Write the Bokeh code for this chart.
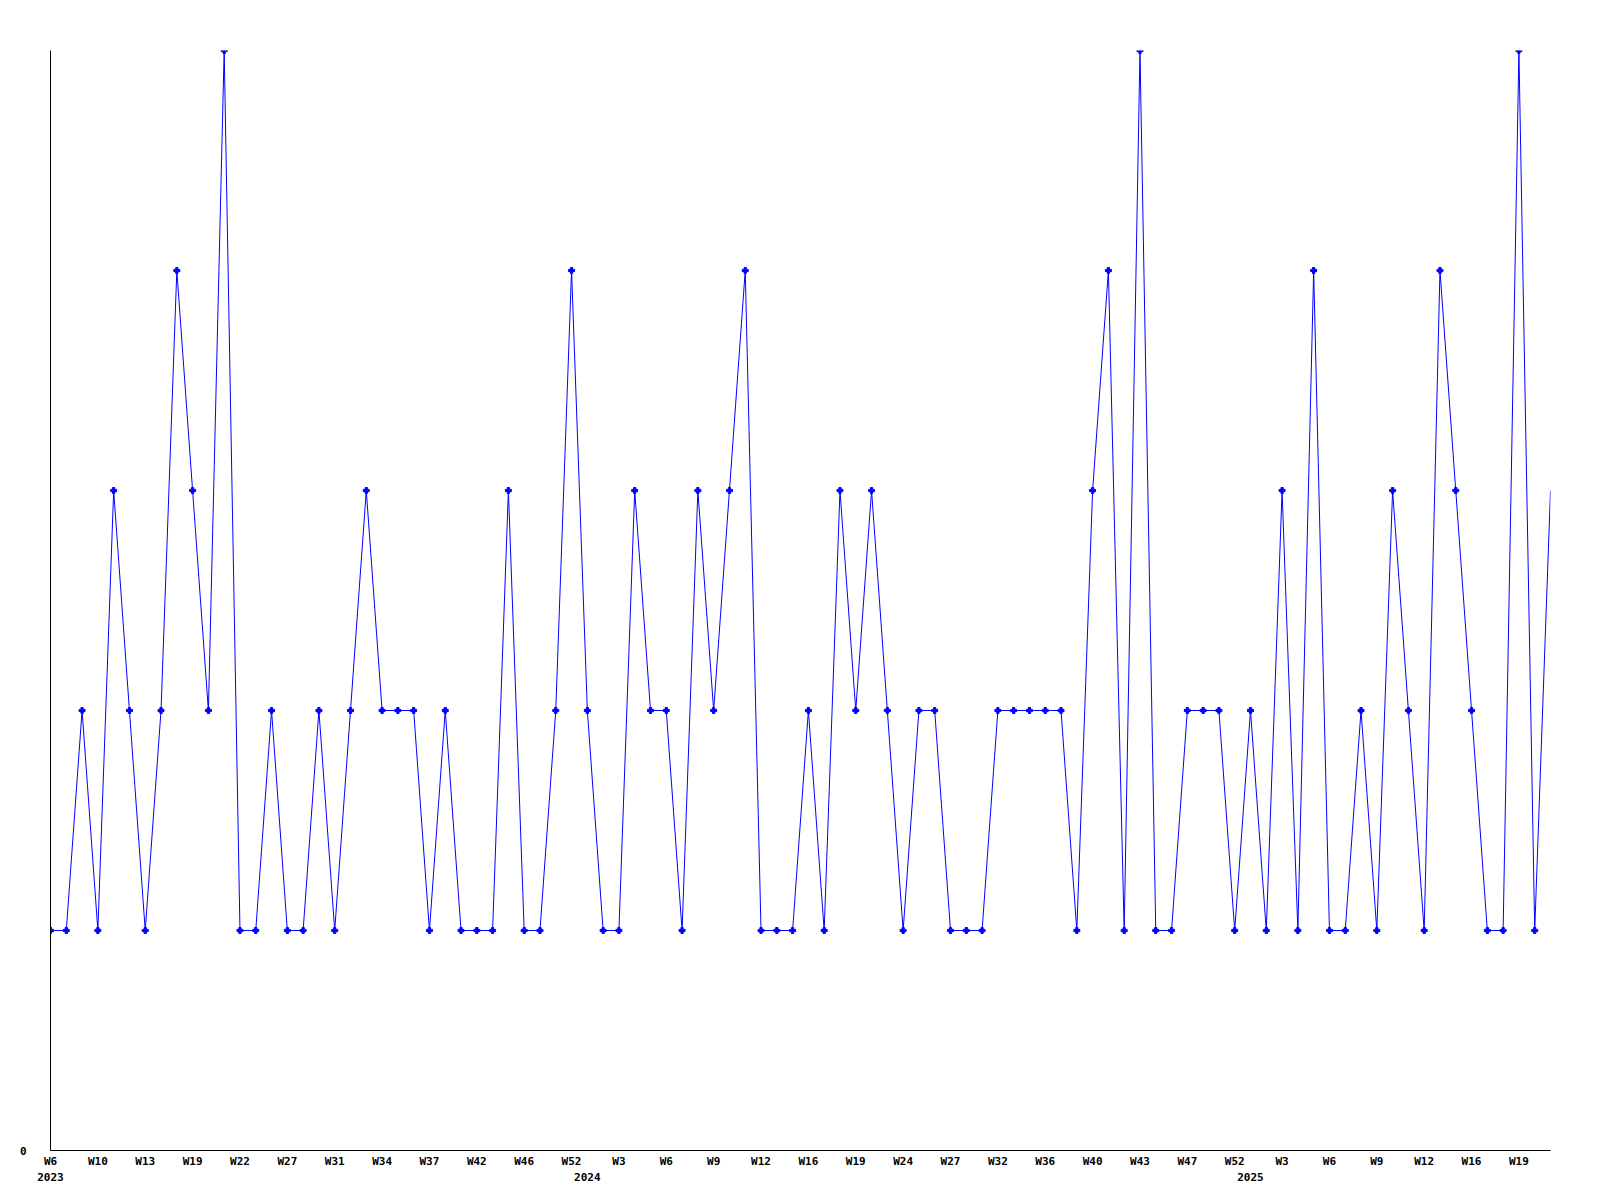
from bokeh.plotting import figure
from bokeh.models import FixedTicker, LinearAxis, Range1d
from bokeh.embed import file_html
from bokeh.resources import INLINE

# Data: one value per period (evenly spaced categories)
values = [1, 1, 2, 1, 3, 2, 1, 2, 4, 3, 2, 5,
          1, 1, 2, 1, 1, 2, 1, 2, 3, 2, 2, 2,
          1, 2, 1, 1, 1, 3, 1, 1, 2, 4, 2, 1,
          1, 3, 2, 2, 1, 3, 2, 3, 4, 1, 1, 1,
          2, 1, 3, 2, 3, 2, 1, 2, 2, 1, 1, 1,
          2, 2, 2, 2, 2, 1, 3, 4, 1, 5, 1, 1,
          2, 2, 2, 1, 2, 1, 3, 1, 4, 1, 1, 2,
          1, 3, 2, 1, 4, 3, 2, 1, 1, 5, 1, 3]
x_idx = list(range(len(values)))

week_tick_idx = list(range(0, 94, 3))
week_labels = ["W6", "W10", "W13", "W19", "W22", "W27", "W31", "W34", "W37", "W42", "W46",
               "W52", "W3", "W6", "W9", "W12", "W16", "W19", "W24", "W27", "W32", "W36",
               "W40", "W43", "W47", "W52", "W3", "W6", "W9", "W12", "W16", "W19"]
year_tick_idx = [0, 34, 76]
year_labels = ["2023", "2024", "2025"]

FONT = "DejaVu Sans Mono"
FS = "11px"

p = figure(width=1568, height=1195,
           x_range=Range1d(0, len(values) - 1), y_range=Range1d(0, 5),
           output_backend="svg", toolbar_location=None,
           min_border_left=50, min_border_top=50, min_border_right=18, min_border_bottom=45)
p.outline_line_color = None
p.background_fill_color = "white"
p.border_fill_color = "white"
p.xgrid.visible = False
p.ygrid.visible = False

# Week axis
xa = p.xaxis[0]
xa.ticker = FixedTicker(ticks=week_tick_idx)
xa.major_label_overrides = {i: lab for i, lab in zip(week_tick_idx, week_labels)}
xa.major_tick_line_color = None
xa.minor_tick_line_color = None
xa.major_tick_out = 0
xa.major_tick_in = 0
xa.axis_line_color = "black"
xa.axis_line_width = 1
xa.major_label_standoff = 4
xa.major_label_text_font = FONT
xa.major_label_text_font_style = "bold"
xa.major_label_text_font_size = FS
xa.major_label_text_color = "black"

# Year axis
ya_year = LinearAxis(ticker=FixedTicker(ticks=year_tick_idx),
                     major_label_overrides={i: lab for i, lab in zip(year_tick_idx, year_labels)},
                     axis_line_color=None, major_tick_line_color=None, minor_tick_line_color=None,
                     major_tick_out=0, major_tick_in=0,
                     major_label_standoff=2,
                     major_label_text_font=FONT, major_label_text_font_style="bold",
                     major_label_text_font_size=FS, major_label_text_color="black")
p.add_layout(ya_year, "below")

# Y axis
ya = p.yaxis[0]
ya.ticker = FixedTicker(ticks=[0])
ya.major_tick_line_color = None
ya.minor_tick_line_color = None
ya.major_tick_out = 0
ya.major_tick_in = 0
ya.axis_line_color = "black"
ya.major_label_standoff = 24
ya.major_label_text_font = FONT
ya.major_label_text_font_style = "bold"
ya.major_label_text_font_size = FS
ya.major_label_text_color = "black"

p.line(x_idx, values, line_color="#0000ff", line_width=1)
p.scatter(x_idx[:-1], values[:-1], marker="plus", size=6, color="#0000ff")

open("out.html", "w").write(file_html(p, INLINE))
